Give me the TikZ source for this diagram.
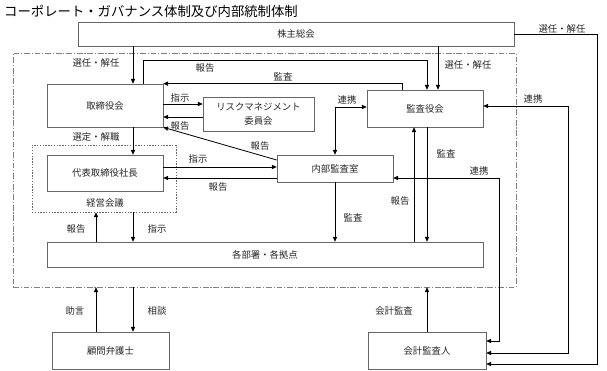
\documentclass[tikz,border=0pt]{standalone}
\usepackage{fontspec}
\setmainfont{Noto Sans CJK JP}
\usetikzlibrary{arrows.meta}

\begin{document}
\begin{tikzpicture}[x=0.03cm,y=-0.03cm,
  box/.style={draw=black!60,line width=0.6pt,inner sep=0pt,align=center,text=black!85,font=\fontsize{8}{12}\selectfont},
  lbl/.style={inner sep=0pt,text=black!85,font=\fontsize{8}{10}\selectfont},
  arr/.style={-{Triangle[length=4pt,width=3.6pt]},line width=0.7pt},
  arrb/.style={{Triangle[length=4pt,width=3.6pt]}-{Triangle[length=4pt,width=3.6pt]},line width=0.7pt}]
  \useasboundingbox (0,0) rectangle (607,371);
  \node[anchor=west,inner sep=0pt,font=\fontsize{11.4}{13}\selectfont] (title) at (4,11) {コーポレート・ガバナンス体制及び内部統制体制};
  % frames
  \node[draw=black!50,line width=0.6pt,dash pattern=on 5pt off 1.5pt on 1pt off 1.5pt,minimum width=15.09cm,minimum height=7.02cm,inner sep=0pt] (frame) at (264.5,170) {};
  \node[draw=black!60,line width=0.6pt,dash pattern=on 1.2pt off 1.2pt,minimum width=4.32cm,minimum height=2.01cm,inner sep=0pt] (kg) at (104,178.5) {};
  \node[lbl] (kgtext) at (105,203) {経営会議};
  % boxes
  \node[box,minimum width=13.08cm,minimum height=0.72cm] (sh) at (296,34) {株主総会};
  \node[box,minimum width=3.48cm,minimum height=1.29cm] (tb) at (105,105.5) {取締役会};
  \node[box,minimum width=3.33cm,minimum height=1.02cm] (rm) at (258.5,114) {リスクマネジメント\\委員会};
  \node[box,minimum width=3.48cm,minimum height=1.11cm] (ka) at (425,108.5) {監査役会};
  \node[box,minimum width=3.48cm,minimum height=1.08cm] (dh) at (105,173) {代表取締役社長};
  \node[box,minimum width=3.48cm,minimum height=0.81cm] (nb) at (335,168.5) {内部監査室};
  \node[box,minimum width=13.08cm,minimum height=0.75cm] (kb) at (265,254.5) {各部署・各拠点};
  \node[box,minimum width=3.51cm,minimum height=1.11cm] (bg) at (110.5,350.5) {顧問弁護士};
  \node[box,minimum width=3.54cm,minimum height=1.11cm] (ak) at (427,350.5) {会計監査人};
  % connectors
  \draw[arr] (133,0 |- sh.south) -- (133,0 |- tb.north);
  \draw[arr] (438,0 |- sh.south) -- (438,0 |- ka.north);
  \draw[arr] (143,0 |- tb.north) |- (427,60) -- (427,0 |- ka.north);
  \draw[arr] (402,0 |- ka.north) |- (tb.north east);
  \draw[arr] (tb.east |- 0,104) -- (rm.west |- 0,104);
  \draw[arr] (rm.west |- 0,117) -- (tb.east |- 0,117);
  \draw[arr] (nb.west |- 0,160) -- (tb.south east);
  \draw[arrb] (ka.west |- 0,107) -| (nb.north);
  \draw[arr] (133,0 |- tb.south) -- (133,0 |- dh.north);
  \draw[arr] (dh.east |- 0,167) -- (nb.west |- 0,167);
  \draw[arr] (nb.west |- 0,178) -- (dh.east |- 0,178);
  \draw[arr] (96,0 |- kb.north) -- (96,0 |- kg.south);
  \draw[arr] (133,0 |- kg.south) -- (133,0 |- kb.north);
  \draw[arr] (nb.south) -- (335,0 |- kb.north);
  \draw[arr] (414,0 |- kb.north) -- (414,0 |- ka.south);
  \draw[arr] (427,0 |- ka.south) -- (427,0 |- kb.north);
  \draw[arr] (sh.east) -| (597,364) -- (ak.east |- 0,364);
  \draw[arrb] (ka.east |- 0,106) -| (568,353) -- (ak.east |- 0,353);
  \draw[arrb] (nb.east |- 0,178) -| (499,341) -- (ak.east |- 0,341);
  \draw[arr] (96,0 |- bg.north) -- (96,0 |- frame.south);
  \draw[arr] (133,0 |- frame.south) -- (133,0 |- bg.north);
  \draw[arr] (ak.north) -- (427,0 |- frame.south);
  % labels
  \node[lbl] (l1) at (96,63) {選任・解任};
  \node[lbl] (l2) at (468,65) {選任・解任};
  \node[lbl] (l3) at (562,29) {選任・解任};
  \node[lbl] (l4) at (205,68) {報告};
  \node[lbl] (l5) at (283,77) {監査};
  \node[lbl] (l6) at (180,98) {指示};
  \node[lbl] (l7) at (180,126) {報告};
  \node[lbl] (l8) at (260,146) {報告};
  \node[lbl] (l9) at (347,100) {連携};
  \node[lbl] (l10) at (533,99) {連携};
  \node[lbl] (l11) at (479,171) {連携};
  \node[lbl] (l12) at (96,137) {選定・解職};
  \node[lbl] (l13) at (198,159) {指示};
  \node[lbl] (l14) at (218,187) {報告};
  \node[lbl] (l15) at (76,229) {報告};
  \node[lbl] (l16) at (157,229) {指示};
  \node[lbl] (l17) at (353,218) {監査};
  \node[lbl] (l18) at (400,201) {報告};
  \node[lbl] (l19) at (446,154) {監査};
  \node[lbl] (l20) at (75,311) {助言};
  \node[lbl] (l21) at (157,311) {相談};
  \node[lbl] (l22) at (394,311) {会計監査};
\end{tikzpicture}
\end{document}
